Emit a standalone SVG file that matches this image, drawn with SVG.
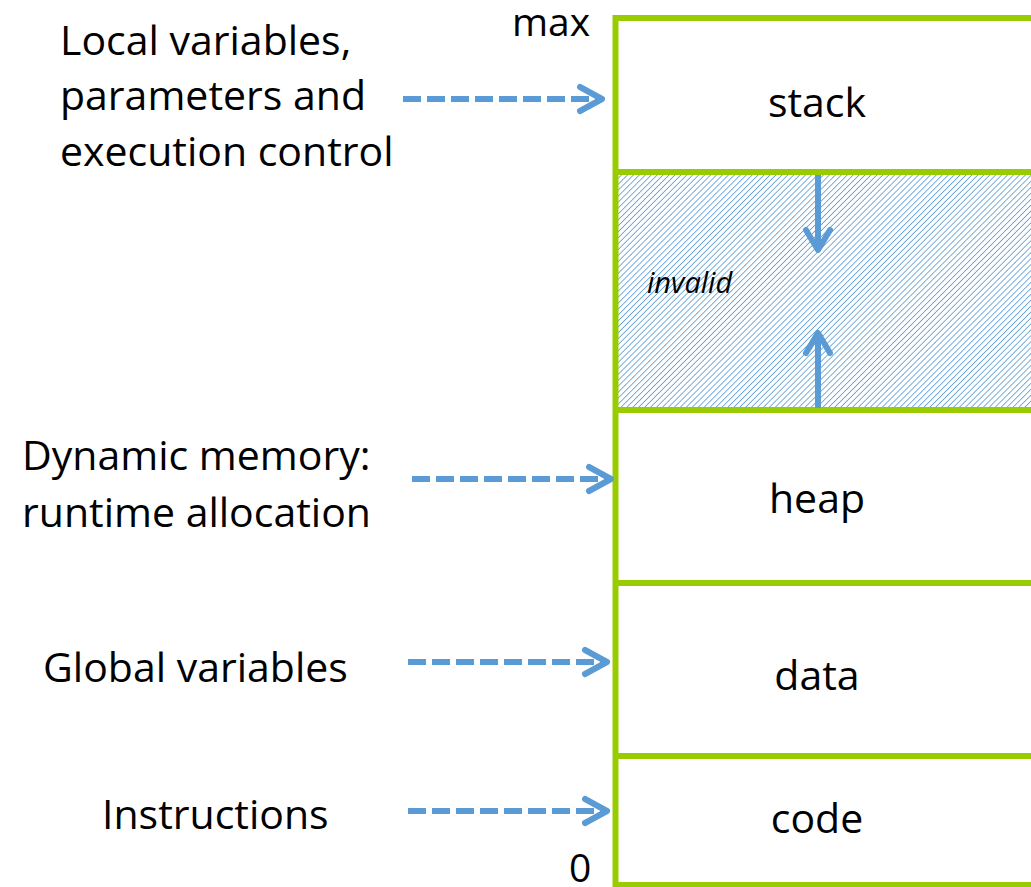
<svg xmlns="http://www.w3.org/2000/svg" width="1031" height="887" viewBox="0 0 1031 887">
  <defs>
    <style>
      .lbl { font-family: "Open Sans", "Liberation Sans", sans-serif; font-size: 41px; fill: #000; }
      .seg { font-family: "Open Sans", "Liberation Sans", sans-serif; font-size: 41px; fill: #000; text-anchor: middle; }
      .inv { font-family: "Open Sans", "Liberation Sans", sans-serif; font-size: 29px; font-style: italic; fill: #000; }
      .wall { stroke: #99CC00; stroke-width: 6; fill: none; }
      .ptr { stroke: #5B9BD5; stroke-width: 6; fill: none; stroke-dasharray: 18 6; }
      .head { stroke: #5B9BD5; stroke-width: 6; fill: none; stroke-linecap: round; stroke-linejoin: round; }
      .grow { stroke: #5B9BD5; stroke-width: 6; fill: none; }
    </style>
    <pattern id="hatch" patternUnits="userSpaceOnUse" width="4.2" height="4.2" patternTransform="rotate(45)">
      <line x1="0" y1="-1" x2="0" y2="5.2" stroke="#5B9BD5" stroke-width="1.6"/>
    </pattern>
  </defs>

  <rect width="1031" height="887" fill="#fff"/>

  <!-- memory segments -->
  <g id="stack">
    <rect x="615.5" y="18" width="420" height="154" fill="#fff"/>
    <text class="seg" x="817" y="117">stack</text>
  </g>
  <g id="invalid">
    <rect x="615.5" y="172" width="420" height="238" fill="url(#hatch)"/>
    <text class="inv" x="647" y="293">invalid</text>
  </g>
  <g id="heap">
    <text class="seg" x="817" y="513">heap</text>
  </g>
  <g id="data">
    <text class="seg" x="817" y="690">data</text>
  </g>
  <g id="code">
    <text class="seg" x="817" y="833">code</text>
  </g>

  <!-- segment borders -->
  <g id="walls">
    <path class="wall" d="M615.5 887 V18 H1031 M612.5 172 H1031 M612.5 410 H1031 M612.5 583 H1031 M612.5 756 H1031 M612.5 885 H1031"/>
  </g>

  <!-- address bounds -->
  <g id="bounds">
    <text class="lbl" x="512" y="36" style="font-size:39px">max</text>
    <text class="lbl" x="569" y="882" style="font-size:39px">0</text>
  </g>

  <!-- descriptions -->
  <g id="desc-stack">
    <text class="lbl" x="60" y="55">Local variables,</text>
    <text class="lbl" x="60" y="110">parameters and</text>
    <text class="lbl" x="60" y="166">execution control</text>
  </g>
  <g id="desc-heap">
    <text class="lbl" x="22" y="470">Dynamic memory:</text>
    <text class="lbl" x="22" y="527">runtime allocation</text>
  </g>
  <g id="desc-data">
    <text class="lbl" x="43" y="682">Global variables</text>
  </g>
  <g id="desc-code">
    <text class="lbl" x="102" y="829">Instructions</text>
  </g>

  <!-- connectors -->
  <g id="connectors">
    <line class="ptr" x1="403" y1="99" x2="598" y2="99"/>
    <polyline class="head" points="580,87 602,99 580,111"/>
    <line class="ptr" x1="412" y1="479" x2="607" y2="479"/>
    <polyline class="head" points="589,467 611,479 589,491"/>
    <line class="ptr" x1="408" y1="662" x2="603" y2="662"/>
    <polyline class="head" points="585,650 607,662 585,674"/>
    <line class="ptr" x1="408" y1="811" x2="603" y2="811"/>
    <polyline class="head" points="585,799 607,811 585,823"/>

    <!-- growth directions -->
    <line class="grow" x1="818" y1="175" x2="818" y2="249"/>
    <polyline class="head" points="806,230 818,250 830,230"/>
    <line class="grow" x1="818" y1="408" x2="818" y2="335"/>
    <polyline class="head" points="806,353 818,333 830,353"/>
  </g>
</svg>
